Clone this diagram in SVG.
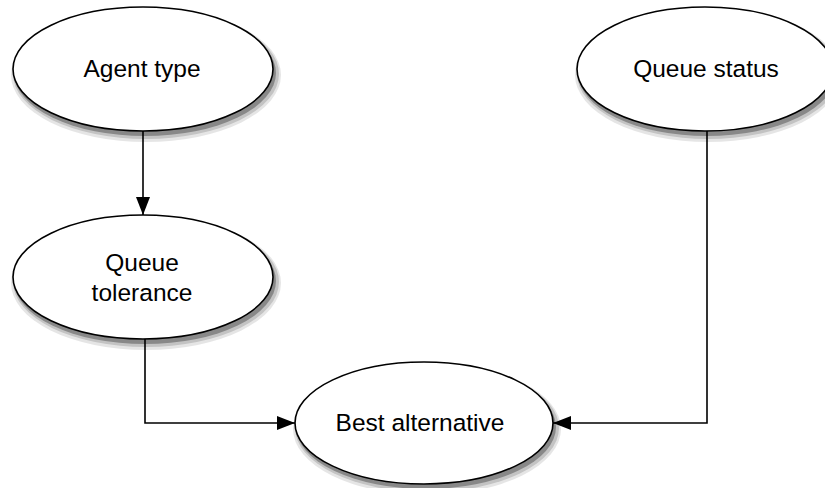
<svg xmlns="http://www.w3.org/2000/svg" width="825" height="488" viewBox="0 0 825 488">
<defs>
<marker id="arr" markerWidth="18" markerHeight="14" refX="18" refY="7" orient="auto" markerUnits="userSpaceOnUse">
<path d="M0,0 L18,7 L0,14 Z" fill="#000"/>
</marker>
<style>
.e{fill:#fff;stroke:#000;stroke-width:1.6}
.s1{fill:#000;opacity:0.1}
.s2{fill:#000;opacity:0.15}
.s3{fill:#000;opacity:0.3}
.n text{font-family:"Liberation Sans",Arial,sans-serif;font-size:24.5px;text-anchor:middle;fill:#000}
.c path{fill:none;stroke:#000;stroke-width:1.6;marker-end:url(#arr)}
</style>
</defs>
<rect width="825" height="488" fill="#fff"/>
<g id="connectors" class="c">
<path d="M143,131 L143,215"/>
<path d="M145,339 L145,423 L295,423"/>
<path d="M707,131 L707,423 L553,423"/>
</g>
<g id="agent-type" class="n">
<ellipse class="s1" cx="146" cy="75" rx="135" ry="67"/>
<ellipse class="s2" cx="146" cy="74" rx="133" ry="65"/>
<ellipse class="s3" cx="145" cy="73" rx="131" ry="63"/>
<ellipse class="e" cx="143" cy="69" rx="130" ry="62"/>
<text x="142" y="77">Agent type</text>
</g>
<g id="queue-status" class="n">
<ellipse class="s1" cx="708" cy="75" rx="133" ry="67"/>
<ellipse class="s2" cx="708" cy="74" rx="131" ry="65"/>
<ellipse class="s3" cx="707" cy="73" rx="129" ry="63"/>
<ellipse class="e" cx="705" cy="69" rx="128" ry="62"/>
<text x="706" y="77">Queue status</text>
</g>
<g id="queue-tolerance" class="n">
<ellipse class="s1" cx="146" cy="283" rx="135" ry="67"/>
<ellipse class="s2" cx="146" cy="282" rx="133" ry="65"/>
<ellipse class="s3" cx="145" cy="281" rx="131" ry="63"/>
<ellipse class="e" cx="143" cy="277" rx="130" ry="62"/>
<text x="142" y="271">Queue</text>
<text x="142" y="301">tolerance</text>
</g>
<g id="best-alternative" class="n">
<ellipse class="s1" cx="427" cy="429" rx="134" ry="66"/>
<ellipse class="s2" cx="427" cy="428" rx="132" ry="64"/>
<ellipse class="s3" cx="426" cy="427" rx="130" ry="62"/>
<ellipse class="e" cx="424" cy="423" rx="129" ry="61"/>
<text x="420" y="431">Best alternative</text>
</g>
</svg>
